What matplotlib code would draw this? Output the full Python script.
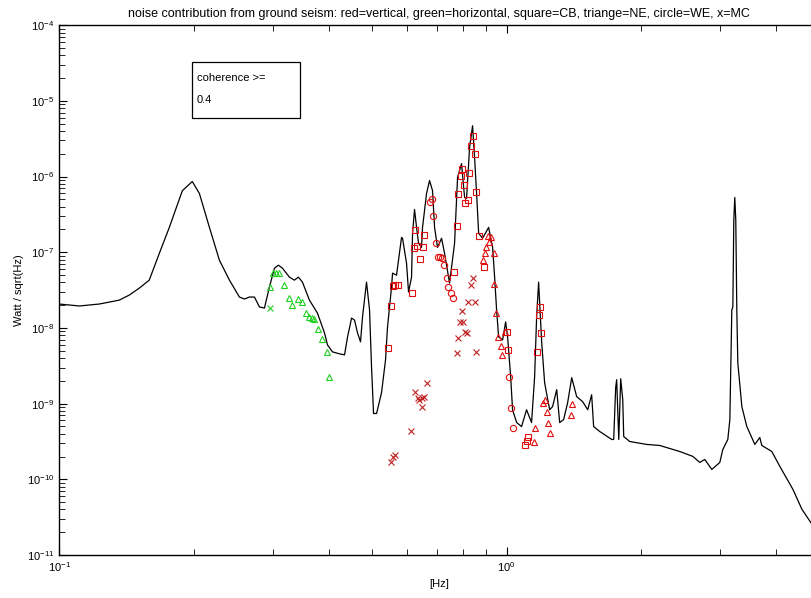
import numpy as np
import matplotlib
matplotlib.use('Agg')
import matplotlib.pyplot as plt
from matplotlib.ticker import LogLocator, NullFormatter
from matplotlib.patches import Rectangle

plt.rcParams['font.family'] = ['Liberation Sans', 'DejaVu Sans']

# total noise spectrum (black line)
freq = [0.100, 0.1109, 0.1229, 0.1362, 0.1434, 0.1510, 0.1589, 0.1674, 0.1762, 0.1884,
        0.1983, 0.2057, 0.2166, 0.2280, 0.2401, 0.2527, 0.2594, 0.2661, 0.2731, 0.2802,
        0.2875, 0.2949, 0.3027, 0.3090, 0.3154, 0.3269, 0.3354, 0.3424, 0.3496, 0.3624,
        0.3777, 0.3916, 0.3977, 0.4080, 0.4230, 0.4342, 0.4410, 0.4502, 0.4571, 0.4642,
        0.4714, 0.4763, 0.4862, 0.4938, 0.4989, 0.5041, 0.5120, 0.5253, 0.5362, 0.5417,
        0.5530, 0.5559, 0.5674, 0.5733, 0.5822, 0.5852, 0.5974, 0.6036, 0.6130, 0.6162,
        0.6225, 0.6290, 0.6355, 0.6454, 0.6487, 0.6622, 0.6725, 0.6830, 0.6901, 0.7008,
        0.7154, 0.7265, 0.7455, 0.7649, 0.7768, 0.7929, 0.8054, 0.8137, 0.8264, 0.8392,
        0.8480, 0.8568, 0.8659, 0.8837, 0.9115, 0.9304, 0.9401, 0.9497, 0.9596, 0.9796,
        0.9949, 1.005, 1.021, 1.031, 1.053, 1.080, 1.108, 1.137, 1.155, 1.167,
        1.179, 1.198, 1.216, 1.248, 1.267, 1.294, 1.314, 1.341, 1.369, 1.398,
        1.434, 1.479, 1.518, 1.549, 1.565, 1.615, 1.718, 1.735, 1.753, 1.762,
        1.781, 1.799, 1.818, 1.827, 1.884, 2.057, 2.199, 2.438, 2.607, 2.703,
        2.773, 2.875, 2.996, 3.043, 3.122, 3.155, 3.187, 3.204, 3.220, 3.236,
        3.253, 3.270, 3.287, 3.356, 3.443, 3.588, 3.681, 3.719, 3.916, 4.081,
        4.364, 4.571, 4.812, 4.989]
noise = [2.07e-8, 1.95e-8, 2.07e-8, 2.33e-8, 2.72e-8, 3.36e-8, 4.28e-8, 9.7e-8, 2.13e-7, 6.5e-7,
         8.6e-7, 5.97e-7, 2.13e-7, 7.85e-8, 4.28e-8, 2.56e-8, 2.41e-8, 2.56e-8, 2.56e-8, 1.89e-8,
         1.83e-8, 3.46e-8, 6.16e-8, 6.74e-8, 6.16e-8, 4.69e-8, 4.28e-8, 4.69e-8, 4.03e-8, 2.33e-8,
         1.57e-8, 8.6e-9, 5.97e-9, 4.83e-9, 4.55e-9, 4.41e-9, 7.62e-9, 1.35e-8, 1.27e-8, 8.6e-9,
         6.55e-9, 1.40e-8, 4.03e-8, 1.73e-8, 3.07e-9, 7.4e-10, 7.4e-10, 1.40e-9, 3.79e-9, 1.03e-8,
         3.46e-8, 5.30e-8, 4.98e-8, 7.85e-8, 1.57e-7, 1.53e-7, 7.16e-8, 2.98e-8, 4.69e-8, 1.78e-7,
         3.68e-7, 2.13e-7, 1.31e-7, 1.16e-7, 2.13e-7, 5.97e-7, 8.86e-7, 6.5e-7, 2.13e-7, 1.16e-7,
         1.53e-7, 9.7e-8, 3.91e-8, 1.31e-7, 9.7e-7, 1.48e-6, 5.3e-7, 5.14e-7, 2.41e-6, 4.69e-6,
         1.78e-6, 5.97e-7, 1.78e-7, 1.53e-7, 2.13e-7, 1.16e-7, 4.69e-8, 1.73e-8, 7.62e-9, 6.95e-9,
         1.20e-8, 7.62e-9, 2.27e-9, 8.3e-10, 5.62e-10, 4.98e-10, 8.3e-10, 5.62e-10, 2.27e-9, 1.40e-8,
         4.03e-8, 6.35e-9, 1.89e-9, 8.3e-10, 9.14e-10, 1.53e-9, 5.62e-10, 6.16e-10, 1.03e-9, 2.20e-9,
         1.24e-9, 1.06e-9, 8.3e-10, 1.31e-9, 4.98e-10, 4.28e-10, 3.36e-10, 3.36e-10, 1.63e-9, 2.07e-9,
         3.36e-10, 2.13e-9, 1.13e-9, 3.68e-10, 3.16e-10, 2.89e-10, 2.80e-10, 2.33e-10, 2.01e-10, 1.67e-10,
         1.83e-10, 1.35e-10, 1.67e-10, 2.48e-10, 3.36e-10, 6.16e-10, 1.73e-8, 1.89e-8, 2.64e-7, 5.3e-7,
         2.64e-7, 1.73e-8, 3.46e-9, 9.14e-10, 4.98e-10, 2.89e-10, 3.57e-10, 2.80e-10, 2.33e-10, 1.48e-10,
         7.38e-11, 4.03e-11, 2.56e-11, 1.89e-11]

# horizontal, NE (green triangles)
h_ne_f = [0.2965, 0.3011, 0.3058, 0.3105, 0.3186, 0.3269, 0.3321, 0.3424, 0.3496, 0.3569,
          0.3624, 0.3681, 0.3719, 0.3796, 0.3876, 0.3957, 0.4018]
h_ne_v = [3.46e-8, 5.30e-8, 5.30e-8, 5.30e-8, 3.68e-8, 2.48e-8, 2.01e-8, 2.41e-8, 2.20e-8, 1.57e-8,
          1.40e-8, 1.35e-8, 1.31e-8, 9.7e-9, 7.16e-9, 4.83e-9, 2.27e-9]
# horizontal, MC (green x)
h_mc_f = [0.2965]
h_mc_v = [1.83e-8]

# vertical, CB (red squares)
v_cb_f = [0.5417, 0.5501, 0.5559, 0.5617, 0.5705, 0.6130, 0.6193, 0.6225, 0.6290, 0.6387,
          0.6487, 0.6520, 0.7610, 0.7729, 0.7768, 0.7891, 0.7929, 0.8012, 0.8054, 0.8180,
          0.8222, 0.8308, 0.8392, 0.8480, 0.8524, 0.8659, 0.8882, 1.000, 1.005, 1.185,
          1.179, 1.191, 1.167, 1.114, 1.108, 1.097]
v_cb_v = [5.46e-9, 1.95e-8, 3.57e-8, 3.68e-8, 3.68e-8, 2.89e-8, 1.13e-7, 1.95e-7, 1.20e-7, 8.1e-8,
          1.16e-7, 1.67e-7, 5.46e-8, 2.20e-7, 5.8e-7, 1.03e-6, 1.24e-6, 7.85e-7, 4.41e-7, 4.83e-7,
          1.13e-6, 2.56e-6, 3.46e-6, 2.01e-6, 6.16e-7, 1.63e-7, 6.35e-8, 8.86e-9, 5.14e-9, 1.89e-8,
          1.48e-8, 8.6e-9, 4.83e-9, 3.57e-10, 3.16e-10, 2.80e-10]
# vertical, WE (red circles)
v_we_f = [0.6725, 0.6795, 0.6830, 0.6937, 0.7008, 0.7081, 0.7154, 0.7229, 0.7341, 0.7379,
          0.7494, 0.7572, 1.010, 1.021, 1.031]
v_we_v = [4.55e-7, 4.98e-7, 2.98e-7, 1.31e-7, 8.6e-8, 8.6e-8, 8.34e-8, 6.74e-8, 4.55e-8, 3.46e-8,
          2.89e-8, 2.48e-8, 2.27e-9, 8.86e-10, 4.83e-10]
# vertical, NE (red triangles)
v_ne_f = [0.8837, 0.8928, 0.8975, 0.9115, 0.9068, 0.9209, 0.9352, 0.9352, 0.9450, 0.9547,
          0.9696, 0.9746, 0.9897, 1.155, 1.149, 1.204, 1.216, 1.229, 1.235, 1.248,
          1.398, 1.391]
v_ne_v = [7.85e-8, 9.7e-8, 1.16e-7, 1.36e-7, 1.63e-7, 1.57e-7, 9.7e-8, 3.79e-8, 1.57e-8, 7.62e-9,
          5.8e-9, 4.41e-9, 8.86e-9, 4.83e-10, 3.07e-10, 1.03e-9, 1.13e-9, 7.85e-10, 5.62e-10, 4.15e-10,
          1.0e-9, 7.16e-10]
# vertical, MC (red x)
v_mc_f = [0.6622, 0.6225, 0.6323, 0.6454, 0.6520, 0.6355, 0.6454, 0.6098, 0.5559, 0.5617,
          0.5501, 0.8392, 0.8308, 0.8180, 0.8480, 0.7929, 0.7849, 0.7971, 0.8054, 0.8137,
          0.7768, 0.7729, 0.8524]
v_mc_v = [1.89e-9, 1.44e-9, 1.20e-9, 1.20e-9, 1.24e-9, 1.13e-9, 9.14e-10, 4.41e-10, 1.95e-10, 2.07e-10,
          1.67e-10, 4.55e-8, 3.68e-8, 2.20e-8, 2.20e-8, 1.67e-8, 1.20e-8, 1.20e-8, 8.86e-9, 8.6e-9,
          7.38e-9, 4.69e-9, 4.83e-9]

red = '#e01010'
green = '#20d020'

fig = plt.figure(figsize=(8.12, 5.98), dpi=100)
ax = fig.add_axes([0.073, 0.0719, 0.936, 0.886])

ax.loglog(freq, noise, color='black', lw=0.9)
ms = 4.5
mk = dict(linestyle='none', markerfacecolor='none', markeredgewidth=0.8)
ax.plot(h_ne_f, h_ne_v, marker='^', color=green, markersize=ms - 0.5, **mk)
ax.plot(h_mc_f, h_mc_v, marker='x', color=green, markersize=ms, **mk)
ax.plot(v_cb_f, v_cb_v, marker='s', color=red, markersize=ms, **mk)
ax.plot(v_we_f, v_we_v, marker='o', color=red, markersize=ms, **mk)
ax.plot(v_ne_f, v_ne_v, marker='^', color=red, markersize=ms - 0.5, **mk)
ax.plot(v_mc_f, v_mc_v, marker='x', color='#c02020', markersize=ms, **mk)

ax.set_xlim(0.1, 5)
ax.set_ylim(1e-11, 1e-4)
ax.yaxis.set_major_locator(LogLocator(base=10, numticks=10))
ax.yaxis.set_minor_locator(LogLocator(base=10, subs=np.arange(2, 10), numticks=10))
ax.xaxis.set_minor_formatter(NullFormatter())
ax.yaxis.set_minor_formatter(NullFormatter())
ax.tick_params(which='both', direction='in', top=True, right=True, labelsize=8)
ax.tick_params(which='major', length=6)
ax.tick_params(which='minor', length=4)
for s in ax.spines.values():
    s.set_linewidth(1.0)

ax.set_title('noise contribution from ground seism: red=vertical, green=horizontal, '
             'square=CB, triange=NE, circle=WE, x=MC', fontsize=9, pad=6)
ax.set_xlabel('[Hz]', fontsize=8, labelpad=4)
ax.set_ylabel('Watt / sqrt(Hz)', fontsize=8, labelpad=2)

ax.add_patch(Rectangle((0.1746, 0.8245), 0.142, 0.1055, transform=ax.transAxes,
                       facecolor='white', edgecolor='black', lw=0.9, zorder=5))
ax.text(0.181, 0.90, 'coherence >=', transform=ax.transAxes, fontsize=8,
        va='center', zorder=6)
ax.text(0.181, 0.858, '0.4', transform=ax.transAxes, fontsize=8,
        va='center', zorder=6)

fig.savefig('out.png', dpi=100)
